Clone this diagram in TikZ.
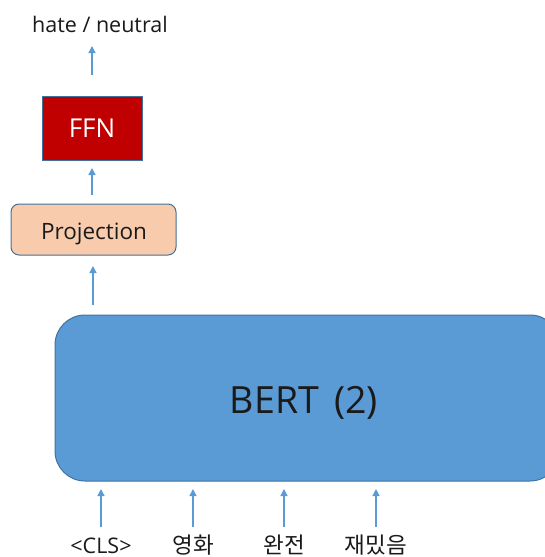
\documentclass[tikz,border=0pt]{standalone}
\usepackage{fontspec}
\setmainfont{Open Sans}
\newfontfamily\kofont{Noto Sans CJK KR}
\usetikzlibrary{arrows.meta}
\definecolor{arrowblue}{HTML}{5B9BD5}
\definecolor{bertfill}{HTML}{5B9BD5}
\definecolor{boxline}{HTML}{41719C}
\definecolor{ffnred}{HTML}{C00000}
\definecolor{projfill}{HTML}{F8CBAD}
\definecolor{txt}{HTML}{1A1A1A}
\tikzset{
  flow/.style={draw=arrowblue, line width=1.3pt, -{Triangle[width=7pt,length=7pt]}},
  lbl/.style={text=txt, inner sep=0pt, anchor=base},
  ffnbox/.style={draw=boxline, line width=0.8pt, fill=ffnred, minimum width=100pt, minimum height=64pt, text=white, font=\fontsize{26}{30}\selectfont},
  projbox/.style={draw=boxline, line width=1pt, fill=projfill, rounded corners=8pt, minimum width=165pt, minimum height=51pt},
  bertbox/.style={draw=boxline, line width=1pt, fill=bertfill, rounded corners=30pt, minimum width=505pt, minimum height=166pt},
  tok/.style={lbl, font=\fontsize{21.5}{25}\selectfont},
  kotok/.style={lbl, font=\kofont\fontsize{22.5}{26}\selectfont},
}
\begin{document}
\begin{tikzpicture}[x=1pt,y=-1pt]
  \useasboundingbox (0,0) rectangle (545,557);
  \clip (0,0) rectangle (545,557);
  % output label and classifier head
  \node[lbl, font=\fontsize{21.5}{25}\selectfont] (out) at (100,32) {hate / neutral};
  \node[ffnbox] (ffn) at (92,128) {FFN};
  \node[projbox] (proj) at (93.5,229.5) {};
  \node[lbl, font=\fontsize{22.5}{26}\selectfont] (projlabel) at (94,239) {Projection};
  % encoder
  \node[bertbox] (bert) at (307.5,398) {};
  \node[lbl, font=\fontsize{37.5}{42}\selectfont] (bertlabel) at (304,413) {BERT\hspace{0.15em} (2)};
  % input tokens
  \node[tok] (t0) at (101,553) {<CLS>};
  \node[kotok] (t1) at (193,553) {영화};
  \node[kotok] (t2) at (284,553) {완전};
  \node[kotok] (t3) at (376,553) {재밌음};
  % arrows between the stages
  \coordinate (a0s) at (101,527); \coordinate (a0e) at (101,489);
  \coordinate (a1s) at (193,527); \coordinate (a1e) at (193,489);
  \coordinate (a2s) at (284,527); \coordinate (a2e) at (284,489);
  \coordinate (a3s) at (376,527); \coordinate (a3e) at (376,489);
  \draw[flow] (a0s) -- (a0e);
  \draw[flow] (a1s) -- (a1e);
  \draw[flow] (a2s) -- (a2e);
  \draw[flow] (a3s) -- (a3e);
  \coordinate (bproj) at (93,305); \coordinate (tproj) at (93,266);
  \draw[flow] (bproj) -- (tproj);
  \coordinate (bffn) at (92,195); \coordinate (tffn) at (92,168);
  \draw[flow] (bffn) -- (tffn);
  \coordinate (bout) at (92,75); \coordinate (tout) at (92,46);
  \draw[flow] (bout) -- (tout);
\end{tikzpicture}
\end{document}
